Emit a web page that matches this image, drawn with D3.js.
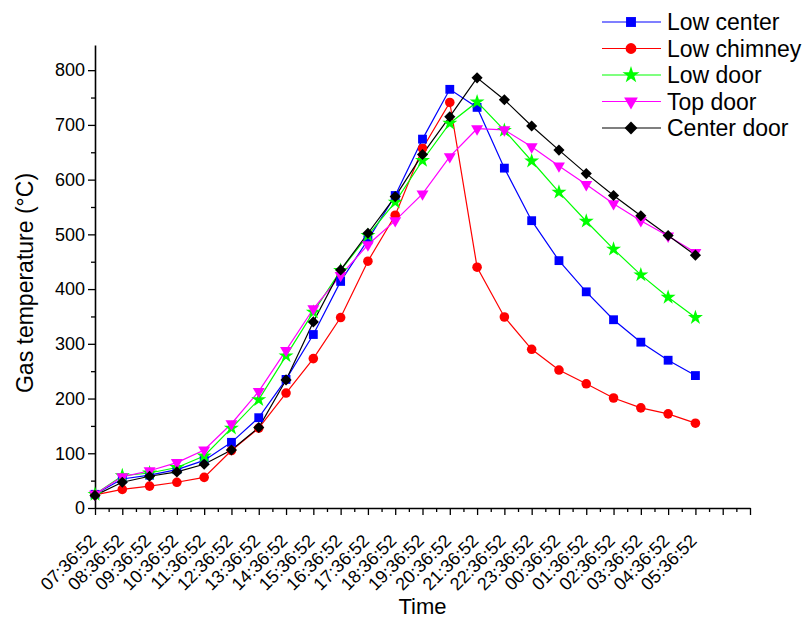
<!DOCTYPE html>
<html>
<head>
<meta charset="utf-8">
<script src="https://cdn.jsdelivr.net/npm/d3@7"></script>
<style>
  body { margin: 0; background: #fff; }
  text { font-family: Arial, "Liberation Sans", sans-serif; }
</style>
</head>
<body>
<div id="chart"></div>
<script>
// Data
const timeLabels = [
  '07:36:52', '08:36:52', '09:36:52', '10:36:52', '11:36:52', '12:36:52',
  '13:36:52', '14:36:52', '15:36:52', '16:36:52', '17:36:52', '18:36:52',
  '19:36:52', '20:36:52', '21:36:52', '22:36:52', '23:36:52', '00:36:52',
  '01:36:52', '02:36:52', '03:36:52', '04:36:52', '05:36:52',
];
const seriesNames = ['Low center', 'Low chimney', 'Low door', 'Top door', 'Center door'];
const lowCenter = [25, 53, 60, 70, 87, 120, 165, 235, 317, 414, 490, 571, 674, 765, 732, 621, 525, 452, 395, 344, 303, 270, 242];
const lowChimney = [24, 34, 40, 47, 56, 105, 146, 210, 273, 348, 451, 535, 657, 741, 440, 349, 290, 252, 227, 201, 183, 172, 155];
const lowDoor = [25, 59, 64, 74, 95, 146, 198, 278, 358, 434, 498, 559, 635, 703, 742, 690, 634, 577, 524, 473, 426, 385, 348];
const topDoor = [25, 57, 68, 83, 106, 154, 213, 288, 364, 425, 481, 525, 574, 642, 693, 691, 660, 625, 591, 556, 525, 497, 467];
const centerDoor = [23, 47, 58, 66, 80, 106, 147, 234, 340, 435, 502, 569, 646, 715, 786, 746, 698, 654, 611, 571, 534, 498, 462];
const yTicks = [0, 100, 200, 300, 400, 500, 600, 700, 800];

const width = 804;
const height = 619;

const svg = d3
  .select('#chart')
  .append('svg')
  .attr('width', width)
  .attr('height', height);

// Scales
const x = d3.scaleLinear().domain([0, 24]).range([95, 750]);
const y = d3.scaleLinear().domain([0, 846]).range([508, 45]);

// Series styling
const colors = ['#0000ff', '#ff0000', '#00ff00', '#ff00ff', '#000000'];
const allSeries = [lowCenter, lowChimney, lowDoor, topDoor, centerDoor];

const symbols = [
  { type: d3.symbolSquare, size: 78, rotate: 0 },
  { type: d3.symbolCircle, size: 72, rotate: 0 },
  { type: d3.symbolStar, size: 70, rotate: 0 },
  { type: d3.symbolTriangle, size: 62, rotate: 180 },
  { type: d3.symbolSquare, size: 62, rotate: 45 },
];

// Axes
const xMinor = d3.range(0.5, 24, 1);
svg
  .append('g')
  .attr('transform', `translate(0,${y(0)})`)
  .call(d3.axisBottom(x).tickValues(xMinor).tickSize(4).tickSizeOuter(0).tickFormat(''))
  .call((g) => g.select('.domain').remove())
  .selectAll('line')
  .attr('stroke-width', 1.3);

const xAxis = svg
  .append('g')
  .attr('transform', `translate(0,${y(0)})`)
  .call(
    d3
      .axisBottom(x)
      .tickValues(d3.range(0, 25))
      .tickSize(7)
      .tickSizeOuter(0)
      .tickFormat((i) => timeLabels[i] || ''),
  );
xAxis.select('.domain').attr('stroke-width', 1.6);
xAxis.selectAll('line').attr('stroke-width', 1.3);
xAxis
  .selectAll('text')
  .attr('x', 0)
  .attr('y', 0)
  .attr('dy', 0)
  .attr('text-anchor', 'end')
  .attr('transform', 'translate(2,34) rotate(-45)')
  .style('font-size', '18px')
  .attr('fill', '#000');

const yMinor = d3.range(50, 800, 100);
svg
  .append('g')
  .attr('transform', `translate(${x(0)},0)`)
  .call(d3.axisLeft(y).tickValues(yMinor).tickSize(4).tickSizeOuter(0).tickFormat(''))
  .call((g) => g.select('.domain').remove())
  .selectAll('line')
  .attr('stroke-width', 1.3);

const yAxis = svg
  .append('g')
  .attr('transform', `translate(${x(0)},0)`)
  .call(d3.axisLeft(y).tickValues(yTicks).tickSize(7).tickSizeOuter(0).tickPadding(3));
yAxis.select('.domain').attr('stroke-width', 1.6);
yAxis.selectAll('line').attr('stroke-width', 1.3);
yAxis.selectAll('text').style('font-size', '18px').attr('fill', '#000');

// Axis titles
svg
  .append('text')
  .attr('x', (x(0) + x(24)) / 2)
  .attr('y', 614)
  .attr('text-anchor', 'middle')
  .style('font-size', '22px')
  .text('Time');

svg
  .append('text')
  .attr('transform', 'translate(33,283) rotate(-90)')
  .attr('text-anchor', 'middle')
  .style('font-size', '23px')
  .text('Gas temperature (°C)');

// Lines and markers
const line = d3
  .line()
  .x((d, i) => x(i))
  .y((d) => y(d));

allSeries.forEach(function (values, s) {
  svg
    .append('path')
    .datum(values)
    .attr('fill', 'none')
    .attr('stroke', colors[s])
    .attr('stroke-width', 1.2)
    .attr('d', line);
});

allSeries.forEach(function (values, s) {
  const sym = symbols[s];
  svg
    .append('g')
    .selectAll('path')
    .data(values)
    .enter()
    .append('path')
    .attr('d', d3.symbol().type(sym.type).size(sym.size))
    .attr('transform', (d, i) => `translate(${x(i)},${y(d)}) rotate(${sym.rotate})`)
    .attr('fill', colors[s]);
});

// Legend
const legend = svg
  .selectAll('.legend')
  .data(seriesNames)
  .enter()
  .append('g')
  .attr('class', 'legend')
  .attr('transform', (d, i) => `translate(0,${22 + i * 26.5})`);

legend
  .append('line')
  .attr('x1', 602)
  .attr('x2', 661)
  .attr('stroke', (d, i) => colors[i])
  .attr('stroke-width', 1.2);

legend
  .append('path')
  .attr('d', (d, i) => d3.symbol().type(symbols[i].type).size(symbols[i].size + 20)())
  .attr('transform', (d, i) => `translate(631,0) rotate(${symbols[i].rotate})`)
  .attr('fill', (d, i) => colors[i]);

legend
  .append('text')
  .attr('x', 667)
  .attr('dy', '0.36em')
  .style('font-size', '23px')
  .text((d) => d);
</script>
</body>
</html>
